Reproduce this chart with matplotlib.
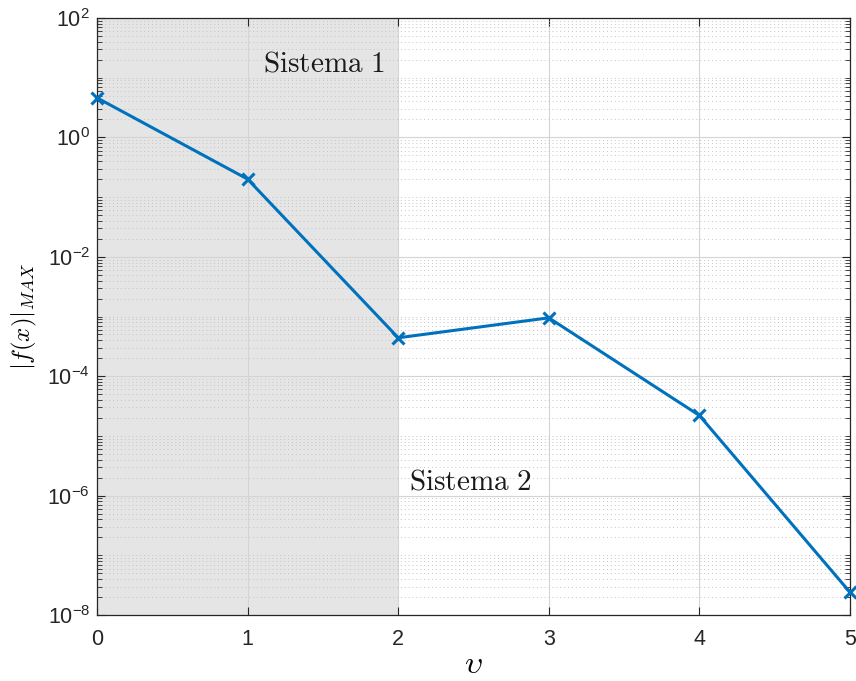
import numpy as np
import matplotlib
matplotlib.use("Agg")
import matplotlib.pyplot as plt
from matplotlib.ticker import LogLocator, FixedLocator, NullFormatter

plt.rcParams['font.family'] = ['Liberation Sans', 'DejaVu Sans']
plt.rcParams['mathtext.fontset'] = 'custom'
plt.rcParams['mathtext.rm'] = 'Liberation Sans'
plt.rcParams['mathtext.it'] = 'Liberation Sans:italic'

# data
iterations = [0, 1, 2, 3, 4, 5]
f_max = [4.6, 0.2, 4.4e-4, 9.5e-4, 2.2e-5, 2.4e-8]
shade_range = [0, 2]
labels = ['Sistema 1', 'Sistema 2']
label_pos = [(1.1, 17), (2.07, 1.7e-6)]

fig = plt.figure(figsize=(8.56, 6.81), dpi=100)
ax = fig.add_axes([97 / 856, 1 - 615 / 681, (850 - 97) / 856, (615 - 18) / 681])

ax.axvspan(shade_range[0], shade_range[1], color='#e5e5e5', zorder=0, lw=0)

ax.set_yscale('log')
ax.set_xlim(0, 5)
ax.set_ylim(1e-8, 1e2)

ax.plot(iterations, f_max, color='#0072bd', lw=2.2, marker='x', ms=8, mew=2.2,
        zorder=5, clip_on=False)

# MATLAB-like grid
ax.yaxis.set_major_locator(FixedLocator([10.0 ** k for k in range(-8, 3, 2)]))
ax.yaxis.set_minor_locator(LogLocator(base=10, subs=np.arange(1, 10), numticks=20))
ax.yaxis.set_minor_formatter(NullFormatter())
ax.set_yticklabels([r'$10^{%d}$' % k for k in range(-8, 3, 2)])
ax.grid(which='major', color='#d4d4d4', lw=0.8, zorder=1)
ax.grid(which='minor', axis='y', color='#c4c4c4', lw=0.7, ls=(0, (1, 3)), zorder=1)
ax.set_axisbelow(True)

ax.tick_params(which='both', direction='in', top=True, right=True, colors='#262626',
               labelsize=15.5)
ax.tick_params(which='major', length=6, width=0.8)
ax.tick_params(which='minor', length=3.5, width=0.6)
ax.tick_params(axis='x', pad=10)
ax.tick_params(axis='y', pad=5)
for s in ax.spines.values():
    s.set_color('#262626')
    s.set_linewidth(0.9)

for lab, (tx, ty) in zip(labels, label_pos):
    ax.text(tx, ty, r'$\mathrm{%s}$' % lab.replace(' ', r'\ '), fontsize=21,
            va='center', ha='left', color='#1a1a1a', math_fontfamily='cm')

ax.set_xlabel(r'$\upsilon$', fontsize=23, labelpad=0, math_fontfamily='cm')
ax.set_ylabel(r'$|f(x)|_{MAX}$', fontsize=18, labelpad=6, math_fontfamily='cm')

fig.savefig('out.png', dpi=100)
